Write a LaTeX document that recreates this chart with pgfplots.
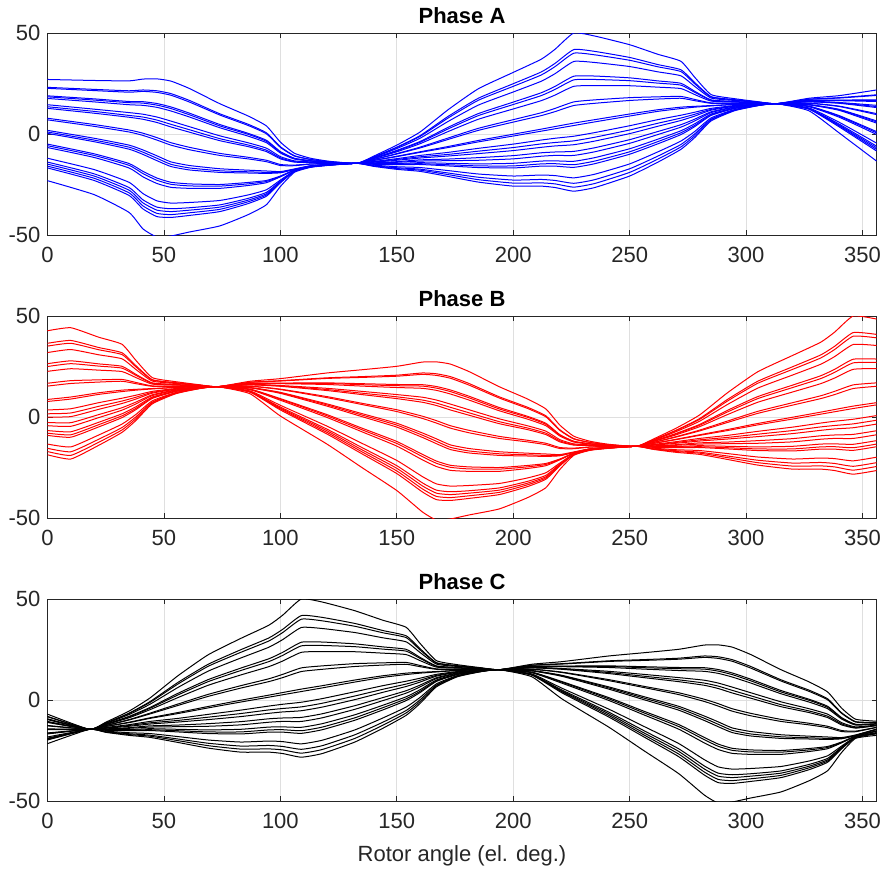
\documentclass[border=0pt]{standalone}
\usepackage{fontspec}
\setmainfont{Liberation Sans}
\usepackage{pgfplots}
\usepackage{pgfplotstable}
\pgfplotsset{compat=1.18}

\definecolor{axgray}{RGB}{38,38,38}
\definecolor{gridgray}{RGB}{223,223,223}

% Phase A: rotor angle, then 23 curves
\pgfplotstableread{
x a b c d e f g h i j k l m n o p q r s t u v w
0 27.0 23.1 22.6 18.9 18.4 17.6 14.5 13.5 12.7 7.8 7.0 1.8 1.0 0.3 -5.0 -5.8 -6.7 -12.0 -13.9 -14.9 -15.9 -16.8 -23.1
20 26.5 22.1 21.5 17.4 16.8 15.9 12.3 11.2 10.3 4.7 3.8 -2.1 -3.0 -3.8 -9.8 -10.6 -11.6 -17.6 -19.7 -20.8 -21.9 -23.0 -30.0
35 26.3 21.4 20.7 16.1 15.5 14.5 10.6 9.2 8.3 2.0 1.0 -5.5 -6.5 -7.5 -14.6 -15.5 -16.8 -23.9 -26.5 -27.8 -29.1 -30.4 -38.8
41 27.2 21.8 21.1 16.0 15.3 14.2 9.8 8.4 7.3 0.4 -0.7 -7.9 -9.0 -10.1 -18.5 -19.6 -21.2 -29.5 -32.6 -34.1 -35.6 -37.1 -47.0
47 27.3 21.4 20.6 15.1 14.3 13.2 8.4 6.9 5.7 -1.8 -3.0 -10.8 -12.0 -13.2 -21.8 -22.9 -24.5 -33.1 -36.2 -37.7 -39.3 -40.9 -51.0
53 26.2 20.0 19.2 13.4 12.6 11.4 6.4 4.8 3.5 -4.3 -5.5 -13.8 -15.0 -16.1 -23.9 -24.9 -26.4 -34.2 -37.0 -38.4 -39.9 -41.3 -50.5
61 22.5 16.6 15.8 10.3 9.5 8.4 3.6 2.1 0.9 -6.6 -7.8 -15.6 -16.8 -17.8 -24.7 -25.7 -26.9 -33.9 -36.5 -37.7 -39.0 -40.3 -48.5
74 15.0 10.0 9.4 4.7 4.0 3.1 -0.9 -2.3 -3.3 -9.6 -10.6 -17.2 -18.2 -19.0 -25.0 -25.8 -26.9 -32.9 -35.1 -36.2 -37.3 -38.4 -45.5
86 9.0 4.9 4.3 0.4 -0.1 -1.0 -4.3 -5.4 -6.2 -11.5 -12.3 -17.9 -18.7 -19.3 -24.0 -24.7 -25.5 -30.2 -31.9 -32.8 -33.6 -34.5 -40.0
94 4.0 0.6 0.1 -3.1 -3.6 -4.3 -7.0 -8.0 -8.7 -13.0 -13.7 -18.3 -19.0 -19.5 -23.0 -23.5 -24.1 -27.6 -28.9 -29.6 -30.2 -30.8 -35.0
100 -4.0 -6.3 -6.6 -8.7 -9.0 -9.4 -11.2 -11.8 -12.3 -15.1 -15.6 -18.6 -19.0 -19.2 -20.8 -21.0 -21.2 -22.8 -23.3 -23.6 -23.9 -24.2 -26.0
106 -9.5 -10.7 -10.9 -12.0 -12.1 -12.4 -13.3 -13.7 -13.9 -15.4 -15.7 -17.3 -17.5 -17.6 -17.9 -17.9 -18.0 -18.3 -18.4 -18.5 -18.6 -18.6 -19.0
113 -12.0 -12.6 -12.6 -13.2 -13.3 -13.4 -13.8 -14.0 -14.1 -14.8 -14.9 -15.7 -15.8 -15.8 -16.0 -16.0 -16.0 -16.2 -16.2 -16.3 -16.3 -16.3 -16.5
121 -13.5 -13.7 -13.8 -14.0 -14.0 -14.0 -14.2 -14.3 -14.3 -14.6 -14.7 -15.0 -15.0 -15.0 -15.1 -15.1 -15.2 -15.3 -15.3 -15.3 -15.4 -15.4 -15.5
133 -14.5 -14.5 -14.5 -14.5 -14.5 -14.5 -14.5 -14.5 -14.5 -14.5 -14.5 -14.5 -14.5 -14.5 -14.5 -14.5 -14.5 -14.5 -14.5 -14.5 -14.5 -14.5 -14.5
140 -11.0 -11.4 -11.5 -11.7 -12.0 -12.1 -12.2 -12.6 -12.7 -13.1 -13.1 -13.6 -13.8 -14.0 -14.3 -14.4 -14.7 -14.8 -15.0 -15.4 -15.7 -15.8 -16.0
150 -5.5 -6.5 -6.7 -7.2 -8.1 -8.4 -8.8 -9.7 -9.9 -11.0 -11.2 -12.2 -12.6 -13.0 -13.7 -14.0 -14.6 -14.9 -15.2 -16.2 -16.7 -17.1 -17.5
160 1.0 -0.8 -1.2 -2.1 -3.7 -4.1 -4.8 -6.5 -6.9 -8.8 -9.1 -10.6 -11.3 -11.9 -12.8 -13.4 -14.2 -14.7 -15.1 -16.6 -17.4 -17.9 -18.5
172 12.0 8.7 7.9 6.2 3.3 2.5 1.2 -2.0 -2.7 -6.2 -6.7 -9.1 -10.1 -10.9 -12.4 -13.2 -14.5 -15.2 -15.8 -18.1 -19.3 -20.1 -21.0
185 22.4 17.7 16.7 14.3 10.1 9.1 7.3 2.8 1.8 -3.2 -3.9 -7.1 -8.5 -9.7 -11.7 -13.0 -14.8 -15.8 -16.6 -19.8 -21.4 -22.6 -23.8
200 30.5 24.9 23.6 20.8 15.8 14.6 12.4 7.1 5.9 -0.1 -1.0 -5.0 -6.7 -8.2 -10.7 -12.3 -14.5 -15.8 -16.8 -20.8 -22.8 -24.3 -25.8
212 37.0 30.7 29.2 26.1 20.4 19.0 16.5 10.5 9.1 2.4 1.4 -3.0 -4.9 -6.6 -9.3 -11.0 -13.4 -14.8 -15.9 -20.3 -22.5 -24.2 -25.8
218 42.0 35.0 33.4 29.9 23.6 22.1 19.3 12.7 11.1 3.7 2.6 -2.1 -4.2 -5.9 -8.9 -10.6 -13.3 -14.7 -15.9 -20.6 -23.0 -24.7 -26.5
226 50.0 41.8 40.0 35.9 28.6 26.8 23.6 15.9 14.1 5.4 4.2 -1.1 -3.4 -5.3 -8.6 -10.6 -13.5 -15.2 -16.5 -21.7 -24.4 -26.3 -28.3
235 48.5 40.9 39.2 35.4 28.7 27.0 24.0 16.9 15.2 7.1 6.0 0.7 -1.6 -3.5 -6.8 -8.8 -11.7 -13.4 -14.7 -19.9 -22.6 -24.5 -26.5
250 44.2 37.9 36.5 33.4 27.8 26.4 23.9 18.0 16.6 9.9 8.9 4.1 2.0 0.2 -2.8 -4.6 -7.3 -8.8 -10.0 -14.8 -17.2 -19.0 -20.8
262 39.5 34.4 33.3 30.8 26.3 25.2 23.2 18.4 17.3 12.0 11.2 7.1 5.3 3.8 1.2 -0.3 -2.6 -3.8 -4.9 -8.9 -11.0 -12.5 -14.0
272 36.0 31.8 30.9 28.8 25.1 24.2 22.5 18.6 17.7 13.3 12.6 9.3 7.9 6.7 4.6 3.4 1.6 0.6 -0.3 -3.5 -5.2 -6.4 -7.6
278 28.0 25.4 24.8 23.5 21.1 20.6 19.5 17.1 16.5 13.7 13.3 10.8 9.8 8.9 7.4 6.5 5.1 4.3 3.7 1.3 0.1 -0.8 -1.7
285 19.5 18.5 18.3 17.8 16.9 16.7 16.3 15.4 15.2 14.1 13.9 12.7 12.2 11.8 11.0 10.6 9.9 9.5 9.2 8.0 7.4 7.0 6.5
295 17.5 17.0 16.9 16.6 16.1 16.0 15.8 15.3 15.2 14.7 14.6 14.1 13.9 13.7 13.4 13.2 12.9 12.7 12.6 12.1 11.9 11.7 11.5
305 16.0 15.8 15.8 15.7 15.5 15.4 15.4 15.2 15.1 14.9 14.9 14.8 14.7 14.6 14.5 14.5 14.4 14.4 14.3 14.2 14.1 14.1 14.0
313 15 15 15 15 15 15 15 15 15 15 15 15 15 15 15 15 15 15 15 15 15 15 15
327 17.7 17.2 17.2 16.7 16.6 16.6 16.2 16.0 15.9 15.3 15.2 14.6 14.5 14.4 13.8 13.7 13.5 12.9 12.6 12.5 12.4 12.3 11.5
340 19.0 18.0 17.8 16.8 16.7 16.5 15.6 15.4 15.2 13.8 13.6 12.2 12.0 11.7 9.1 8.8 8.3 5.8 4.9 4.4 4.0 3.5 0.5
356 21.8 19.4 19.1 16.9 16.6 16.1 14.2 13.6 13.1 10.1 9.6 6.5 6.0 5.4 1.2 0.6 -0.2 -4.5 -6.0 -6.8 -7.6 -8.4 -13.4
}\tabA

% Phase B
\pgfplotstableread{
x a b c d e f g h i j k l m n o p q r s t u v w
0 42.7 36.5 35.1 31.9 26.4 25.0 22.6 16.7 15.3 8.7 7.7 3.5 1.6 0.0 -2.7 -4.3 -6.7 -8.0 -9.1 -13.4 -15.5 -17.1 -18.7
10 44.2 37.9 36.5 33.4 27.8 26.4 23.9 18.0 16.6 9.9 8.9 4.1 2.0 0.2 -2.8 -4.6 -7.3 -8.8 -10.0 -14.8 -17.2 -19.0 -20.8
22 39.5 34.4 33.3 30.8 26.3 25.2 23.2 18.4 17.3 12.0 11.2 7.1 5.3 3.8 1.2 -0.3 -2.6 -3.8 -4.9 -8.9 -11.0 -12.5 -14.0
32 36.0 31.8 30.9 28.8 25.1 24.2 22.5 18.6 17.7 13.3 12.6 9.3 7.9 6.7 4.6 3.4 1.6 0.6 -0.3 -3.5 -5.2 -6.4 -7.6
38 28.0 25.4 24.8 23.5 21.1 20.6 19.5 17.1 16.5 13.7 13.3 10.8 9.8 8.9 7.4 6.5 5.1 4.3 3.7 1.3 0.1 -0.8 -1.7
45 19.5 18.5 18.3 17.8 16.9 16.7 16.3 15.4 15.2 14.1 13.9 12.7 12.2 11.8 11.0 10.6 9.9 9.5 9.2 8.0 7.4 7.0 6.5
55 17.5 17.0 16.9 16.6 16.1 16.0 15.8 15.3 15.2 14.7 14.6 14.1 13.9 13.7 13.4 13.2 12.9 12.7 12.6 12.1 11.9 11.7 11.5
65 16.0 15.8 15.8 15.7 15.5 15.4 15.4 15.2 15.1 14.9 14.9 14.8 14.7 14.6 14.5 14.5 14.4 14.4 14.3 14.2 14.1 14.1 14.0
73 15 15 15 15 15 15 15 15 15 15 15 15 15 15 15 15 15 15 15 15 15 15 15
87 17.7 17.2 17.2 16.7 16.6 16.6 16.2 16.0 15.9 15.3 15.2 14.6 14.5 14.4 13.8 13.7 13.5 12.9 12.6 12.5 12.4 12.3 11.5
100 19.0 18.0 17.8 16.8 16.7 16.5 15.6 15.4 15.2 13.8 13.6 12.2 12.0 11.7 9.1 8.8 8.3 5.8 4.9 4.4 4.0 3.5 0.5
120 21.8 19.4 19.1 16.9 16.6 16.1 14.2 13.6 13.1 10.1 9.6 6.5 6.0 5.4 1.2 0.6 -0.2 -4.5 -6.0 -6.8 -7.6 -8.4 -13.4
135 23.4 20.0 19.6 16.5 16.0 15.3 12.7 11.8 11.1 6.8 6.2 1.7 1.0 0.2 -5.5 -6.3 -7.3 -13.0 -15.1 -16.2 -17.2 -18.2 -25.0
150 25.1 20.7 20.2 16.1 15.5 14.6 11.1 10.0 9.1 3.6 2.7 -3.1 -4.0 -5.0 -12.1 -13.1 -14.4 -21.5 -24.1 -25.4 -26.7 -28.0 -36.4
161 27.2 21.8 21.1 16.0 15.3 14.2 9.8 8.4 7.3 0.4 -0.7 -7.9 -9.0 -10.1 -18.5 -19.6 -21.2 -29.5 -32.6 -34.1 -35.6 -37.1 -47.0
167 27.3 21.4 20.6 15.1 14.3 13.2 8.4 6.9 5.7 -1.8 -3.0 -10.8 -12.0 -13.2 -21.8 -22.9 -24.5 -33.1 -36.2 -37.7 -39.3 -40.9 -51.0
173 26.2 20.0 19.2 13.4 12.6 11.4 6.4 4.8 3.5 -4.3 -5.5 -13.8 -15.0 -16.1 -23.9 -24.9 -26.4 -34.2 -37.0 -38.4 -39.9 -41.3 -50.5
181 22.5 16.6 15.8 10.3 9.5 8.4 3.6 2.1 0.9 -6.6 -7.8 -15.6 -16.8 -17.8 -24.7 -25.7 -26.9 -33.9 -36.5 -37.7 -39.0 -40.3 -48.5
194 15.0 10.0 9.4 4.7 4.0 3.1 -0.9 -2.3 -3.3 -9.6 -10.6 -17.2 -18.2 -19.0 -25.0 -25.8 -26.9 -32.9 -35.1 -36.2 -37.3 -38.4 -45.5
206 9.0 4.9 4.3 0.4 -0.1 -1.0 -4.3 -5.4 -6.2 -11.5 -12.3 -17.9 -18.7 -19.3 -24.0 -24.7 -25.5 -30.2 -31.9 -32.8 -33.6 -34.5 -40.0
214 4.0 0.6 0.1 -3.1 -3.6 -4.3 -7.0 -8.0 -8.7 -13.0 -13.7 -18.3 -19.0 -19.5 -23.0 -23.5 -24.1 -27.6 -28.9 -29.6 -30.2 -30.8 -35.0
220 -4.0 -6.3 -6.6 -8.7 -9.0 -9.4 -11.2 -11.8 -12.3 -15.1 -15.6 -18.6 -19.0 -19.2 -20.8 -21.0 -21.2 -22.8 -23.3 -23.6 -23.9 -24.2 -26.0
226 -9.5 -10.7 -10.9 -12.0 -12.1 -12.4 -13.3 -13.7 -13.9 -15.4 -15.7 -17.3 -17.5 -17.6 -17.9 -17.9 -18.0 -18.3 -18.4 -18.5 -18.6 -18.6 -19.0
233 -12.0 -12.6 -12.6 -13.2 -13.3 -13.4 -13.8 -14.0 -14.1 -14.8 -14.9 -15.7 -15.8 -15.8 -16.0 -16.0 -16.0 -16.2 -16.2 -16.3 -16.3 -16.3 -16.5
241 -13.5 -13.7 -13.8 -14.0 -14.0 -14.0 -14.2 -14.3 -14.3 -14.6 -14.7 -15.0 -15.0 -15.0 -15.1 -15.1 -15.2 -15.3 -15.3 -15.3 -15.4 -15.4 -15.5
253 -14.5 -14.5 -14.5 -14.5 -14.5 -14.5 -14.5 -14.5 -14.5 -14.5 -14.5 -14.5 -14.5 -14.5 -14.5 -14.5 -14.5 -14.5 -14.5 -14.5 -14.5 -14.5 -14.5
260 -11.0 -11.4 -11.5 -11.7 -12.0 -12.1 -12.2 -12.6 -12.7 -13.1 -13.1 -13.6 -13.8 -14.0 -14.3 -14.4 -14.7 -14.8 -15.0 -15.4 -15.7 -15.8 -16.0
270 -5.5 -6.5 -6.7 -7.2 -8.1 -8.4 -8.8 -9.7 -9.9 -11.0 -11.2 -12.2 -12.6 -13.0 -13.7 -14.0 -14.6 -14.9 -15.2 -16.2 -16.7 -17.1 -17.5
280 1.0 -0.8 -1.2 -2.1 -3.7 -4.1 -4.8 -6.5 -6.9 -8.8 -9.1 -10.6 -11.3 -11.9 -12.8 -13.4 -14.2 -14.7 -15.1 -16.6 -17.4 -17.9 -18.5
292 12.0 8.7 7.9 6.2 3.3 2.5 1.2 -2.0 -2.7 -6.2 -6.7 -9.1 -10.1 -10.9 -12.4 -13.2 -14.5 -15.2 -15.8 -18.1 -19.3 -20.1 -21.0
305 22.4 17.7 16.7 14.3 10.1 9.1 7.3 2.8 1.8 -3.2 -3.9 -7.1 -8.5 -9.7 -11.7 -13.0 -14.8 -15.8 -16.6 -19.8 -21.4 -22.6 -23.8
320 30.5 24.9 23.6 20.8 15.8 14.6 12.4 7.1 5.9 -0.1 -1.0 -5.0 -6.7 -8.2 -10.7 -12.3 -14.5 -15.8 -16.8 -20.8 -22.8 -24.3 -25.8
332 37.0 30.7 29.2 26.1 20.4 19.0 16.5 10.5 9.1 2.4 1.4 -3.0 -4.9 -6.6 -9.3 -11.0 -13.4 -14.8 -15.9 -20.3 -22.5 -24.2 -25.8
338 42.0 35.0 33.4 29.9 23.6 22.1 19.3 12.7 11.1 3.7 2.6 -2.1 -4.2 -5.9 -8.9 -10.6 -13.3 -14.7 -15.9 -20.6 -23.0 -24.7 -26.5
346 50.0 41.8 40.0 35.9 28.6 26.8 23.6 15.9 14.1 5.4 4.2 -1.1 -3.4 -5.3 -8.6 -10.6 -13.5 -15.2 -16.5 -21.7 -24.4 -26.3 -28.3
356 48.5 40.9 39.2 35.4 28.7 27.0 24.0 16.9 15.2 7.1 6.0 0.7 -1.6 -3.5 -6.8 -8.8 -11.7 -13.4 -14.7 -19.9 -22.6 -24.5 -26.5
}\tabB

% Phase C
\pgfplotstableread{
x a b c d e f g h i j k l m n o p q r s t u v w
0 -7.0 -8.1 -8.3 -9.3 -9.5 -9.7 -10.6 -10.9 -11.1 -12.6 -12.8 -14.3 -14.5 -14.7 -16.3 -16.5 -16.8 -18.3 -18.9 -19.2 -19.5 -19.8 -21.6
18 -14.5 -14.5 -14.5 -14.5 -14.5 -14.5 -14.5 -14.5 -14.5 -14.5 -14.5 -14.5 -14.5 -14.5 -14.5 -14.5 -14.5 -14.5 -14.5 -14.5 -14.5 -14.5 -14.5
25 -11.0 -11.4 -11.5 -11.7 -12.0 -12.1 -12.2 -12.6 -12.7 -13.1 -13.1 -13.6 -13.8 -14.0 -14.3 -14.4 -14.7 -14.8 -15.0 -15.4 -15.7 -15.8 -16.0
35 -5.5 -6.5 -6.7 -7.2 -8.1 -8.4 -8.8 -9.7 -9.9 -11.0 -11.2 -12.2 -12.6 -13.0 -13.7 -14.0 -14.6 -14.9 -15.2 -16.2 -16.7 -17.1 -17.5
44 1.0 -0.8 -1.2 -2.1 -3.7 -4.1 -4.8 -6.5 -6.9 -8.8 -9.1 -10.6 -11.3 -11.9 -12.8 -13.4 -14.2 -14.7 -15.1 -16.6 -17.4 -17.9 -18.5
56 12.0 8.7 7.9 6.2 3.3 2.5 1.2 -2.0 -2.7 -6.2 -6.7 -9.1 -10.1 -10.9 -12.4 -13.2 -14.5 -15.2 -15.8 -18.1 -19.3 -20.1 -21.0
69 22.4 17.7 16.7 14.3 10.1 9.1 7.3 2.8 1.8 -3.2 -3.9 -7.1 -8.5 -9.7 -11.7 -13.0 -14.8 -15.8 -16.6 -19.8 -21.4 -22.6 -23.8
83 30.5 24.9 23.6 20.8 15.8 14.6 12.4 7.1 5.9 -0.1 -1.0 -5.0 -6.7 -8.2 -10.7 -12.3 -14.5 -15.8 -16.8 -20.8 -22.8 -24.3 -25.8
95 37.0 30.7 29.2 26.1 20.4 19.0 16.5 10.5 9.1 2.4 1.4 -3.0 -4.9 -6.6 -9.3 -11.0 -13.4 -14.8 -15.9 -20.3 -22.5 -24.2 -25.8
101 42.0 35.0 33.4 29.9 23.6 22.1 19.3 12.7 11.1 3.7 2.6 -2.1 -4.2 -5.9 -8.9 -10.6 -13.3 -14.7 -15.9 -20.6 -23.0 -24.7 -26.5
109 50.0 41.8 40.0 35.9 28.6 26.8 23.6 15.9 14.1 5.4 4.2 -1.1 -3.4 -5.3 -8.6 -10.6 -13.5 -15.2 -16.5 -21.7 -24.4 -26.3 -28.3
118 48.5 40.9 39.2 35.4 28.7 27.0 24.0 16.9 15.2 7.1 6.0 0.7 -1.6 -3.5 -6.8 -8.8 -11.7 -13.4 -14.7 -19.9 -22.6 -24.5 -26.5
132 44.2 37.9 36.5 33.4 27.8 26.4 23.9 18.0 16.6 9.9 8.9 4.1 2.0 0.2 -2.8 -4.6 -7.3 -8.8 -10.0 -14.8 -17.2 -19.0 -20.8
144 39.5 34.4 33.3 30.8 26.3 25.2 23.2 18.4 17.3 12.0 11.2 7.1 5.3 3.8 1.2 -0.3 -2.6 -3.8 -4.9 -8.9 -11.0 -12.5 -14.0
154 36.0 31.8 30.9 28.8 25.1 24.2 22.5 18.6 17.7 13.3 12.6 9.3 7.9 6.7 4.6 3.4 1.6 0.6 -0.3 -3.5 -5.2 -6.4 -7.6
160 28.0 25.4 24.8 23.5 21.1 20.6 19.5 17.1 16.5 13.7 13.3 10.8 9.8 8.9 7.4 6.5 5.1 4.3 3.7 1.3 0.1 -0.8 -1.7
167 19.5 18.5 18.3 17.8 16.9 16.7 16.3 15.4 15.2 14.1 13.9 12.7 12.2 11.8 11.0 10.6 9.9 9.5 9.2 8.0 7.4 7.0 6.5
176 17.5 17.0 16.9 16.6 16.1 16.0 15.8 15.3 15.2 14.7 14.6 14.1 13.9 13.7 13.4 13.2 12.9 12.7 12.6 12.1 11.9 11.7 11.5
186 16.0 15.8 15.8 15.7 15.5 15.4 15.4 15.2 15.1 14.9 14.9 14.8 14.7 14.6 14.5 14.5 14.4 14.4 14.3 14.2 14.1 14.1 14.0
194 15 15 15 15 15 15 15 15 15 15 15 15 15 15 15 15 15 15 15 15 15 15 15
208 17.7 17.2 17.2 16.7 16.6 16.6 16.2 16.0 15.9 15.3 15.2 14.6 14.5 14.4 13.8 13.7 13.5 12.9 12.6 12.5 12.4 12.3 11.5
221 19.0 18.0 17.8 16.8 16.7 16.5 15.6 15.4 15.2 13.8 13.6 12.2 12.0 11.7 9.1 8.8 8.3 5.8 4.9 4.4 4.0 3.5 0.5
241 21.8 19.4 19.1 16.9 16.6 16.1 14.2 13.6 13.1 10.1 9.6 6.5 6.0 5.4 1.2 0.6 -0.2 -4.5 -6.0 -6.8 -7.6 -8.4 -13.4
256 23.4 20.0 19.6 16.5 16.0 15.3 12.7 11.8 11.1 6.8 6.2 1.7 1.0 0.2 -5.5 -6.3 -7.3 -13.0 -15.1 -16.2 -17.2 -18.2 -25.0
271 25.1 20.7 20.2 16.1 15.5 14.6 11.1 10.0 9.1 3.6 2.7 -3.1 -4.0 -5.0 -12.1 -13.1 -14.4 -21.5 -24.1 -25.4 -26.7 -28.0 -36.4
282 27.2 21.8 21.1 16.0 15.3 14.2 9.8 8.4 7.3 0.4 -0.7 -7.9 -9.0 -10.1 -18.5 -19.6 -21.2 -29.5 -32.6 -34.1 -35.6 -37.1 -47.0
288 27.3 21.4 20.6 15.1 14.3 13.2 8.4 6.9 5.7 -1.8 -3.0 -10.8 -12.0 -13.2 -21.8 -22.9 -24.5 -33.1 -36.2 -37.7 -39.3 -40.9 -51.0
294 26.2 20.0 19.2 13.4 12.6 11.4 6.4 4.8 3.5 -4.3 -5.5 -13.8 -15.0 -16.1 -23.9 -24.9 -26.4 -34.2 -37.0 -38.4 -39.9 -41.3 -50.5
302 22.5 16.6 15.8 10.3 9.5 8.4 3.6 2.1 0.9 -6.6 -7.8 -15.6 -16.8 -17.8 -24.7 -25.7 -26.9 -33.9 -36.5 -37.7 -39.0 -40.3 -48.5
315 15.0 10.0 9.4 4.7 4.0 3.1 -0.9 -2.3 -3.3 -9.6 -10.6 -17.2 -18.2 -19.0 -25.0 -25.8 -26.9 -32.9 -35.1 -36.2 -37.3 -38.4 -45.5
327 9.0 4.9 4.3 0.4 -0.1 -1.0 -4.3 -5.4 -6.2 -11.5 -12.3 -17.9 -18.7 -19.3 -24.0 -24.7 -25.5 -30.2 -31.9 -32.8 -33.6 -34.5 -40.0
335 4.0 0.6 0.1 -3.1 -3.6 -4.3 -7.0 -8.0 -8.7 -13.0 -13.7 -18.3 -19.0 -19.5 -23.0 -23.5 -24.1 -27.6 -28.9 -29.6 -30.2 -30.8 -35.0
341 -4.0 -6.3 -6.6 -8.7 -9.0 -9.4 -11.2 -11.8 -12.3 -15.1 -15.6 -18.6 -19.0 -19.2 -20.8 -21.0 -21.2 -22.8 -23.3 -23.6 -23.9 -24.2 -26.0
347 -9.5 -10.7 -10.9 -12.0 -12.1 -12.4 -13.3 -13.7 -13.9 -15.4 -15.7 -17.3 -17.5 -17.6 -17.9 -17.9 -18.0 -18.3 -18.4 -18.5 -18.6 -18.6 -19.0
356 -10.5 -11.1 -11.2 -11.7 -11.8 -11.9 -12.4 -12.6 -12.7 -13.5 -13.6 -14.4 -14.5 -14.6 -15.3 -15.3 -15.5 -16.1 -16.4 -16.5 -16.6 -16.7 -17.5
}\tabC

\pgfplotsset{
  phase/.style={
    scale only axis, width=414.5pt, height=101pt,
    xmin=0, xmax=356, ymin=-50, ymax=50,
    xtick={0,50,...,350}, ytick={-50,0,50},
    grid=major, major grid style={gridgray, line width=0.4pt},
    axis line style={axgray, line width=0.4pt},
    tick style={axgray, line width=0.4pt},
    tick align=inside, major tick length=2.5pt,
    ticklabel style={font=\fontsize{11}{13}\selectfont, text=axgray},
    xticklabel style={yshift=-2.5pt},
    /pgf/number format/assume math mode=true,
    title style={font=\bfseries\fontsize{11}{13}\selectfont, yshift=-4pt, inner sep=2.5pt},
    label style={font=\fontsize{11}{13}\selectfont, text=axgray},
    xlabel style={yshift=-1.5pt},
    every axis plot/.append style={line width=0.5pt, line join=round, smooth, tension=0.3},
  }
}

\begin{document}
\begin{tikzpicture}
\useasboundingbox (-23.75pt,-418pt) rectangle (417.75pt,16.5pt);

\begin{axis}[phase, at={(0,0)}, anchor=north west, title={Phase A}]
\pgfplotsinvokeforeach{1,...,23}{\addplot[blue] table[x index=0, y index=#1] {\tabA};}
\end{axis}

\begin{axis}[phase, at={(0,-141.5pt)}, anchor=north west, title={Phase B}]
\pgfplotsinvokeforeach{1,...,23}{\addplot[red] table[x index=0, y index=#1] {\tabB};}
\end{axis}

\begin{axis}[phase, at={(0,-283pt)}, anchor=north west, title={Phase C},
  xlabel={Rotor angle (el. deg.)}]
\pgfplotsinvokeforeach{1,...,23}{\addplot[black] table[x index=0, y index=#1] {\tabC};}
\end{axis}
\end{tikzpicture}
\end{document}
